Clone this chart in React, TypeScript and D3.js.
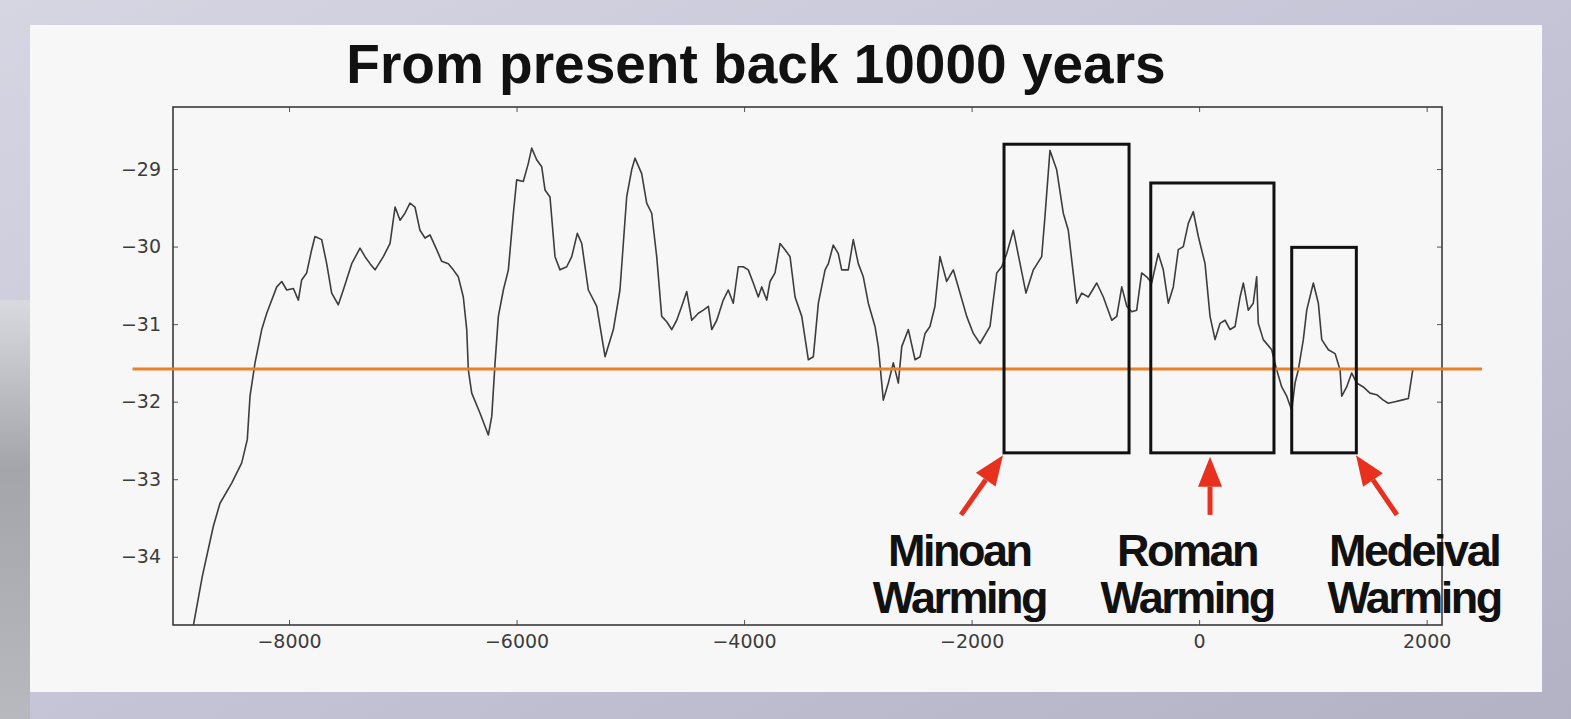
import { useEffect, useRef } from 'react';
import * as d3 from 'd3';

// d18O record, year (negative = BC) and value
const years = [
  -8840, -8762, -8666, -8607, -8504, -8416, -8367, -8343, -8299, -8240,
  -8196, -8108, -8064, -8020, -7962, -7918, -7889, -7845, -7801, -7772,
  -7713, -7669, -7625, -7567, -7523, -7449, -7376, -7332, -7288, -7244,
  -7171, -7112, -7068, -7024, -6981, -6937, -6893, -6849, -6805, -6761,
  -6702, -6658, -6600, -6556, -6512, -6468, -6438, -6424, -6394, -6321,
  -6248, -6218, -6189, -6160, -6116, -6072, -6028, -5999, -5941, -5897,
  -5867, -5823, -5779, -5750, -5706, -5662, -5618, -5559, -5515, -5466,
  -5427, -5369, -5295, -5222, -5149, -5091, -5032, -4988, -4959, -4900,
  -4856, -4812, -4768, -4724, -4680, -4636, -4592, -4548, -4504, -4460,
  -4402, -4358, -4314, -4284, -4240, -4183, -4139, -4095, -4051, -4007,
  -3963, -3919, -3875, -3845, -3801, -3772, -3728, -3684, -3640, -3596,
  -3552, -3493, -3435, -3391, -3347, -3288, -3259, -3216, -3172, -3142,
  -3084, -3040, -2996, -2952, -2908, -2849, -2820, -2776, -2732, -2688,
  -2644, -2614, -2556, -2497, -2453, -2409, -2366, -2322, -2278, -2219,
  -2161, -2117, -2043, -1985, -1926, -1838, -1779, -1735, -1691, -1633,
  -1574, -1522, -1457, -1384, -1355, -1311, -1252, -1194, -1150, -1076,
  -1032, -974, -900, -842, -768, -724, -680, -636, -592, -549,
  -505, -461, -417, -359, -315, -271, -227, -183, -139, -95,
  -51, -7, 52, 96, 140, 184, 228, 272, 316, 360,
  389, 432, 476, 506, 520, 564, 638, 682, 726, 770,
  814, 843, 872, 916, 946, 1004, 1048, 1078, 1136, 1195,
  1239, 1254, 1297, 1341, 1385, 1443, 1502, 1561, 1619, 1663,
  1722, 1781, 1839, 1878,
];

const values = [
  -34.88, -34.25, -33.61, -33.31, -33.05, -32.79, -32.49, -31.93, -31.5, -31.07,
  -30.86, -30.52, -30.45, -30.56, -30.54, -30.69, -30.43, -30.34, -30.04, -29.87,
  -29.91, -30.22, -30.6, -30.75, -30.56, -30.22, -30.02, -30.13, -30.22, -30.3,
  -30.13, -29.96, -29.49, -29.66, -29.57, -29.44, -29.49, -29.79, -29.89, -29.85,
  -30.04, -30.19, -30.22, -30.3, -30.39, -30.65, -31.07, -31.59, -31.89, -32.15,
  -32.43, -32.19, -31.5, -30.9, -30.56, -30.3, -29.57, -29.14, -29.16, -28.93,
  -28.73, -28.88, -28.97, -29.27, -29.36, -30.13, -30.3, -30.26, -30.13, -29.83,
  -29.96, -30.56, -30.77, -31.42, -31.07, -30.56, -29.36, -29.01, -28.86, -29.06,
  -29.44, -29.57, -30.13, -30.9, -30.97, -31.07, -30.95, -30.77, -30.58, -30.95,
  -30.86, -30.82, -30.77, -31.07, -30.95, -30.69, -30.56, -30.73, -30.26, -30.26,
  -30.3, -30.47, -30.65, -30.52, -30.69, -30.45, -30.34, -29.96, -30.04, -30.13,
  -30.65, -30.9, -31.46, -31.42, -30.73, -30.3, -30.22, -29.98, -30.09, -30.3,
  -30.3, -29.91, -30.22, -30.39, -30.73, -31.03, -31.29, -31.98, -31.76, -31.5,
  -31.76, -31.29, -31.07, -31.46, -31.42, -31.12, -31.03, -30.77, -30.13, -30.45,
  -30.3, -30.52, -30.9, -31.12, -31.25, -31.03, -30.34, -30.26, -30.09, -29.79,
  -30.22, -30.6, -30.3, -30.13, -29.61, -28.76, -29.01, -29.57, -29.79, -30.73,
  -30.6, -30.65, -30.47, -30.65, -30.95, -30.9, -30.52, -30.77, -30.84, -30.82,
  -30.34, -30.39, -30.47, -30.09, -30.3, -30.73, -30.52, -30.04, -30.0, -29.7,
  -29.55, -29.87, -30.22, -30.9, -31.2, -30.99, -30.95, -31.07, -31.03, -30.65,
  -30.47, -30.82, -30.73, -30.39, -30.99, -31.2, -31.33, -31.59, -31.81, -31.93,
  -32.11, -31.76, -31.59, -31.2, -30.82, -30.47, -30.73, -31.2, -31.33, -31.38,
  -31.59, -31.93, -31.81, -31.63, -31.76, -31.81, -31.89, -31.91, -31.98, -32.02,
  -32.0, -31.98, -31.96, -31.59,
];

const xTicks = [-8000, -6000, -4000, -2000, 0, 2000];
const yTicks = [-29, -30, -31, -32, -33, -34];

// reference level (orange line), drawn past both axes
const refLevel = -31.58;
const refSpan = [-9376, 2487];

// warm periods: boxes, arrows, labels
const periodNames = ['Minoan', 'Roman', 'Medeival'];
const boxStart = [-1715, -425, 814];
const boxEnd = [-616, 658, 1382];
const boxTop = [-28.68, -29.18, -30.01];
const boxBottom = -32.66;
const arrowTail = [[-2093, -33.46], [96, -33.46], [1739, -33.46]];
const arrowTip = [[-1724, -32.69], [96, -32.71], [1379, -32.69]];
const labelCenter = [-2108, -106, 1890];

const W = 1571;
const H = 719;

export default function App() {
  const svgRef = useRef<SVGSVGElement>(null);

  useEffect(() => {
    document.body.style.margin = '0';
    if (!svgRef.current) return;
    const svg = d3.select(svgRef.current);
    svg.selectAll('*').remove();

    const left = 173, right = 1442, top = 107, bottom = 625;
    const x = d3.scaleLinear().domain([-9020, 2135]).range([left, right]);
    const y = d3.scaleLinear().domain([-34.88, -28.2]).range([bottom, top]);

    const defs = svg.append('defs');
    const bg = defs.append('linearGradient').attr('id', 'bg')
      .attr('x1', '0%').attr('y1', '0%').attr('x2', '100%').attr('y2', '100%');
    bg.append('stop').attr('offset', '0%').attr('stop-color', '#d6d5e2');
    bg.append('stop').attr('offset', '55%').attr('stop-color', '#c4c3d6');
    bg.append('stop').attr('offset', '100%').attr('stop-color', '#b3b2c4');
    const side = defs.append('linearGradient').attr('id', 'side')
      .attr('x1', '0%').attr('y1', '0%').attr('x2', '0%').attr('y2', '100%');
    side.append('stop').attr('offset', '0%').attr('stop-color', '#d9d9e0');
    side.append('stop').attr('offset', '40%').attr('stop-color', '#a4a4ab');
    side.append('stop').attr('offset', '100%').attr('stop-color', '#b8b8bf');
    defs.append('clipPath').attr('id', 'plot-clip')
      .append('rect').attr('x', left).attr('y', top)
      .attr('width', right - left).attr('height', bottom - top);

    // slide background + white panel
    svg.append('rect').attr('width', W).attr('height', H).attr('fill', 'url(#bg)');
    svg.append('rect').attr('x', 0).attr('y', 300).attr('width', 30).attr('height', 419)
      .attr('fill', 'url(#side)');
    svg.append('rect').attr('x', 30).attr('y', 25).attr('width', 1512).attr('height', 667)
      .attr('fill', '#f7f7f7');

    // title
    svg.append('text')
      .attr('x', 756).attr('y', 83)
      .attr('text-anchor', 'middle')
      .style('font-family', '"Liberation Sans", Arial, sans-serif')
      .style('font-weight', '700')
      .style('font-size', '55px')
      .style('fill', '#111')
      .text('From present back 10000 years');

    const g = svg.append('g');

    // axes: ticks point inward on all four sides
    const fmt = (d: d3.NumberValue) => {
      const v = Number(d);
      return v < 0 ? `\u2212${Math.abs(v)}` : `${v}`;
    };
    const styleAxis = (sel: d3.Selection<SVGGElement, unknown, null, undefined>) => {
      sel.select('.domain').remove();
      sel.selectAll('.tick line').style('stroke', '#555').style('stroke-width', 1);
      sel.selectAll('.tick text')
        .style('font-family', '"DejaVu Sans", sans-serif')
        .style('font-size', '19px')
        .style('fill', '#3c3c3c');
    };
    g.append('g').attr('transform', `translate(0,${bottom})`)
      .call(d3.axisBottom(x).tickValues(xTicks).tickSizeInner(-5).tickSizeOuter(0).tickPadding(10).tickFormat(fmt))
      .call(styleAxis);
    g.append('g').attr('transform', `translate(0,${top})`)
      .call(d3.axisTop(x).tickValues(xTicks).tickSizeInner(-5).tickSizeOuter(0).tickFormat(() => ''))
      .call(styleAxis);
    g.append('g').attr('transform', `translate(${left},0)`)
      .call(d3.axisLeft(y).tickValues(yTicks).tickSizeInner(-5).tickSizeOuter(0).tickPadding(12).tickFormat(fmt))
      .call(styleAxis);
    g.append('g').attr('transform', `translate(${right},0)`)
      .call(d3.axisRight(y).tickValues(yTicks).tickSizeInner(-5).tickSizeOuter(0).tickFormat(() => ''))
      .call(styleAxis);

    g.append('rect')
      .attr('x', left).attr('y', top)
      .attr('width', right - left).attr('height', bottom - top)
      .attr('fill', 'none').attr('stroke', '#3a3a3a').attr('stroke-width', 1.6);

    // data line
    const pts = years.map((yr, i) => [yr, values[i]] as [number, number]);
    g.append('path')
      .datum(pts)
      .attr('clip-path', 'url(#plot-clip)')
      .attr('d', d3.line<[number, number]>().x((d) => x(d[0])).y((d) => y(d[1])))
      .attr('fill', 'none')
      .attr('stroke', '#3d3d3d')
      .attr('stroke-width', 1.6)
      .attr('stroke-linejoin', 'round');

    // orange reference line
    g.append('line')
      .attr('x1', x(refSpan[0])).attr('x2', x(refSpan[1]))
      .attr('y1', y(refLevel)).attr('y2', y(refLevel))
      .attr('stroke', '#e8802c').attr('stroke-width', 3);

    // period boxes
    g.selectAll('.box')
      .data(periodNames)
      .enter()
      .append('rect')
      .attr('class', 'box')
      .attr('x', (_, i) => x(boxStart[i]))
      .attr('y', (_, i) => y(boxTop[i]))
      .attr('width', (_, i) => x(boxEnd[i]) - x(boxStart[i]))
      .attr('height', (_, i) => y(boxBottom) - y(boxTop[i]))
      .attr('fill', 'none')
      .attr('stroke', '#111')
      .attr('stroke-width', 3);

    // red arrows
    periodNames.forEach((_, i) => {
      const x0 = x(arrowTail[i][0]), y0 = y(arrowTail[i][1]);
      const x1 = x(arrowTip[i][0]), y1 = y(arrowTip[i][1]);
      const ang = Math.atan2(y1 - y0, x1 - x0);
      const headLen = 30, headW = 12;
      const bx = x1 - headLen * Math.cos(ang), by = y1 - headLen * Math.sin(ang);
      const px = -Math.sin(ang), py = Math.cos(ang);
      g.append('line')
        .attr('x1', x0).attr('y1', y0).attr('x2', bx).attr('y2', by)
        .attr('stroke', '#e8301f').attr('stroke-width', 5);
      g.append('path')
        .attr('d', `M${x1},${y1}L${bx + px * headW},${by + py * headW}L${bx - px * headW},${by - py * headW}Z`)
        .attr('fill', '#e8301f');
    });

    // labels (condensed bold look)
    const labels = g.selectAll('.label')
      .data(periodNames)
      .enter()
      .append('text')
      .attr('class', 'label')
      .attr('text-anchor', 'middle')
      .style('font-family', '"Liberation Sans", Arial, sans-serif')
      .style('font-weight', '700')
      .style('font-size', '45px')
      .style('letter-spacing', '-2.5px')
      .style('fill', '#111');
    labels.append('tspan')
      .attr('x', (_, i) => x(labelCenter[i]))
      .attr('y', y(-34.12))
      .text((d) => d);
    labels.append('tspan')
      .attr('x', (_, i) => x(labelCenter[i]))
      .attr('y', y(-34.72))
      .text('Warming');
  }, []);

  return (
    <svg
      ref={svgRef}
      width={W}
      height={H}
      style={{ position: 'absolute', left: 0, top: 0, display: 'block' }}
    ></svg>
  );
}
